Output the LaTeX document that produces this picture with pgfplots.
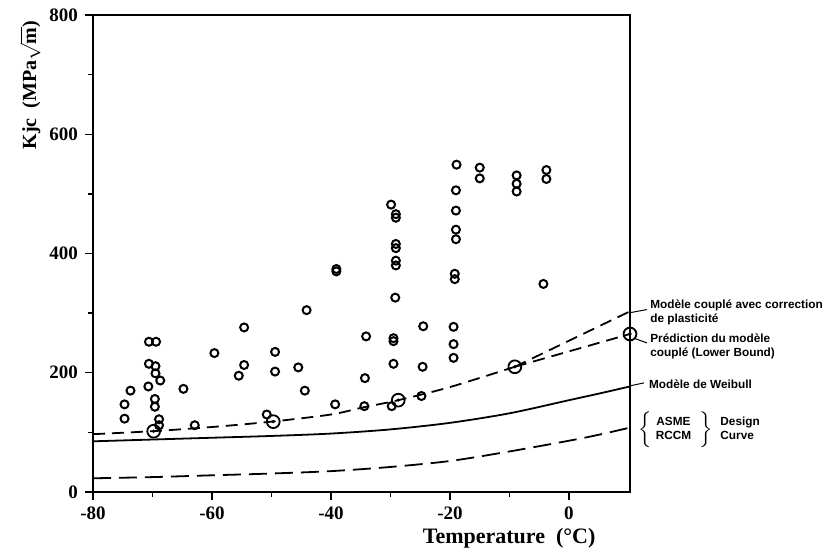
\documentclass[border=0pt]{standalone}
\usepackage{fontspec}
\setmainfont{Liberation Serif}
\newfontfamily\annfont{Liberation Sans}
\usepackage{pgfplots}
\pgfplotsset{compat=1.18}
\usepackage{pgfplotstable}

% measured Kjc values (T in degC, Kjc in MPa sqrt(m))
\pgfplotstableread{
T     K
-74.7 147
-74.7 123
-73.7 170
-70.6 252
-69.4 252
-70.6 215
-69.5 211
-69.5 199
-68.7 187
-70.7 177
-69.6 156
-69.6 143
-68.9 122
-68.9 112
-64.8 173
-62.9 112
-59.6 233
-54.6 276
-55.5 195
-54.6 213
-49.4 235
-49.4 202
-50.8 130
-45.5 209
-44.4 170
-44.1 305
-39.3 147
-39.1 374
-39.1 370
-34.3 191
-34.1 261
-34.4 144
-29.9 482
-29.1 466
-29.1 460
-29.1 416
-29.1 409
-29.1 388
-29.1 380
-29.2 326
-29.5 258
-29.5 253
-29.5 215
-29.8 144
-24.8 161
-24.6 210
-24.5 278
-18.9 549
-19.0 506
-19.0 472
-19.0 440
-19.0 424
-19.2 366
-19.2 357
-19.4 277
-19.4 248
-19.4 225
-15.0 544
-15.0 526
-8.8 531
-8.8 517
-8.8 504
-3.8 540
-3.8 525
-4.3 349
}\kjcdata

\pgfplotstableread{
T     K
-69.8 102
-49.7 118
-28.7 154
-9.1  210
10.25 265
}\lowerbound

\begin{document}
\begin{tikzpicture}
\begin{axis}[
  scale only axis, width=268.5pt, height=238.5pt,
  xmin=-80, xmax=10.25, ymin=0, ymax=800,
  axis line style={line width=0.8pt},
  xtick={-80,-60,-40,-20,0}, xticklabels={-80,-60,-40,-20,0},
  ytick={0,200,400,600,800}, yticklabels={0,200,400,600,800},
  minor xtick={-70,-50,-30,-10}, minor ytick={100,300,500,700},
  tick align=outside, xtick pos=left, ytick pos=left,
  major tick length=4pt, minor tick length=2.5pt,
  tick style={line width=0.7pt, black},
  tick label style={font=\fontsize{9.5}{11}\selectfont\bfseries},
  xlabel={Temperature\ \ (°C)},
  xlabel style={font=\fontsize{11}{13}\selectfont\bfseries, at={(axis description cs:0.775,-0.096)}, anchor=center},
  ylabel={Kjc\ \ (MPa$\sqrt{\mathbf{m}}$)},
  ylabel style={font=\fontsize{10}{12}\selectfont\bfseries, at={(axis description cs:-0.117,0.853)}, anchor=center},
  clip=false,
]
% ASME / RCCM design curve
\addplot[black, line width=0.9pt, dash pattern=on 9pt off 4pt, smooth] coordinates {
  (-80,23) (-70,25) (-60,28) (-50,31) (-40,35) (-30,42) (-20,52) (-10,68) (0,86) (5,96) (10.25,108)};
% Weibull model
\addplot[black, line width=0.9pt, smooth] coordinates {
  (-80,85) (-70,88) (-60,91) (-50,94) (-40,98) (-30,105) (-20,116) (-10,132) (0,154) (5,165) (10.25,177)};
% coupled model (lower bound) and plasticity-corrected branch
\addplot[black, line width=0.9pt, dash pattern=on 6pt off 3.5pt, smooth] coordinates {
  (-80,97) (-70,102) (-60,109) (-50,118) (-40,130) (-35,141) (-28.7,154) (-20,176) (-9.1,210)};
\addplot[black, line width=0.9pt, dash pattern=on 6pt off 3.5pt] coordinates {(-9.1,210) (10.25,303)};
\addplot[black, line width=0.9pt, dash pattern=on 6pt off 3.5pt] coordinates {(-9.1,210) (10.25,265)};

\addplot[only marks, mark=o, mark size=2pt, mark options={line width=1pt, black}] table[x=T, y=K] {\kjcdata};
\addplot[only marks, mark=o, mark size=3.2pt, mark options={line width=0.9pt, black, fill=white}] table[x=T, y=K] {\lowerbound};
\addplot[only marks, mark=*, mark size=0.6pt, black] table[x=T, y=K] {\lowerbound};

% annotations
\draw[line width=0.5pt] (axis cs:10.4,301) -- (axis cs:13.1,306);
\draw[line width=0.5pt] (axis cs:10.9,258) -- (axis cs:13.1,250);
\draw[line width=0.5pt] (axis cs:10.25,178) -- (axis cs:12.6,183);
\node[anchor=west, align=left, inner sep=0pt, font=\annfont\fontsize{5.9}{7}\selectfont\bfseries]
  at (axis cs:13.6,302) {Modèle couplé avec correction\\de plasticité};
\node[anchor=west, align=left, inner sep=0pt, font=\annfont\fontsize{5.9}{7}\selectfont\bfseries]
  at (axis cs:13.6,245) {Prédiction du modèle\\couplé (Lower Bound)};
\node[anchor=west, align=left, inner sep=0pt, font=\annfont\fontsize{5.9}{7}\selectfont\bfseries]
  at (axis cs:13.4,181) {Modèle de Weibull};
\node[anchor=west, inner sep=0pt, font=\annfont\fontsize{5.9}{7}\selectfont\bfseries]
  at (axis cs:11.6,105) {$\left\{\vcenter{\hbox{\begin{tabular}{@{\hspace{2pt}}c@{\hspace{4pt}}}ASME\\RCCM\end{tabular}}}\vphantom{\rule[-5.5pt]{0pt}{16pt}}\right\}$\hspace{4pt}\begin{tabular}{@{}l@{}}Design\\Curve\end{tabular}};
\end{axis}
\path (-46.5pt,-30pt) rectangle (367pt,246pt);
\end{tikzpicture}
\end{document}
